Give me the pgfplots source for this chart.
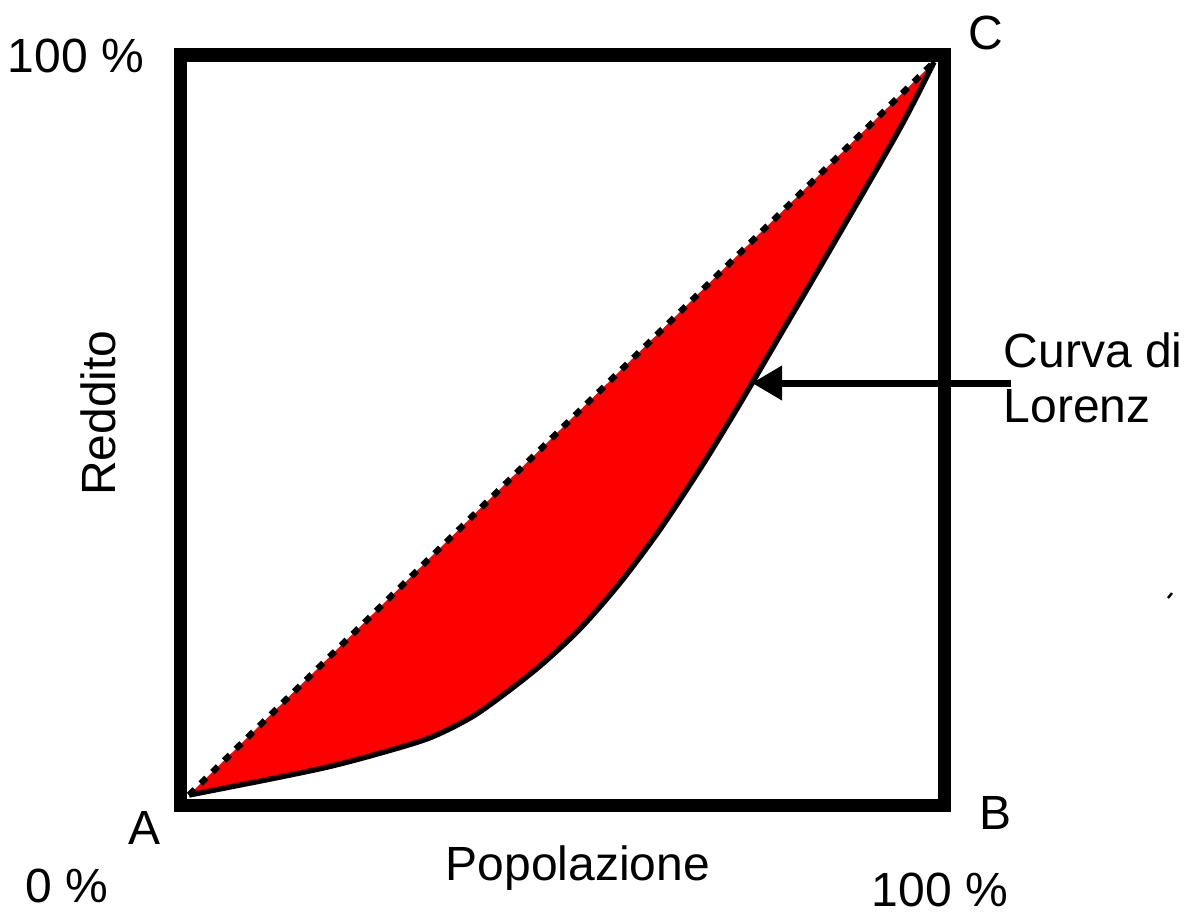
\documentclass[border=0pt]{standalone}
\usepackage{pgfplots}
\pgfplotsset{compat=1.18}
\usepgfplotslibrary{fillbetween}
\usetikzlibrary{arrows.meta}
\usepackage{fontspec}
\setmainfont{Liberation Sans}
\pgfplotstableread{
x y
0 0
5.5 1.1
12.2 2.45
18.9 3.9
25.6 5.7
32.3 7.8
37.7 10.5
41.7 13.3
47.1 17.6
52.5 22.7
57.9 29.0
63.2 36.2
68.6 44.5
72.6 51.1
75.7 56.4
78.0 60.4
86.4 75.0
95.4 90.9
100 100
}\lorenz
\begin{document}
\begin{tikzpicture}
\path (0pt,0pt) rectangle (296.75pt,228pt);
\begin{axis}[
  scale only axis,
  width=191pt, height=187.5pt,
  at={(45pt,26.75pt)}, anchor=south west,
  xmin=-1.21, xmax=101.34, ymin=-1.36, ymax=100.95,
  hide axis, clip=false,
]
\addplot[name path=diag, draw=none] coordinates {(0,0) (100,100)};
\addplot[name path=curve, draw=none, smooth] table[x=x,y=y] {\lorenz};
\addplot[fill=red, draw=none] fill between[of=diag and curve];
\addplot[black, line width=1.55pt, dash pattern=on 2pt off 2.1pt] coordinates {(0,0) (100,100)};
\addplot[black, line width=1.35pt, smooth] table[x=x,y=y] {\lorenz};
\draw[line width=3.25pt, line join=miter] (rel axis cs:0,0) rectangle (rel axis cs:1,1);
\end{axis}
\begin{scope}[font=\fontsize{12}{14}\selectfont]
\node[anchor=base west, inner sep=0] at (1.75pt,209.75pt) {100 \%};
\node[inner sep=0] at (246.5pt,219.75pt) {C};
\node[inner sep=0] at (36.25pt,21pt) {A};
\node[inner sep=0] at (248.75pt,24.75pt) {B};
\node[anchor=base west, inner sep=0] at (6.25pt,2.5pt) {0 \%};
\node[anchor=base, inner sep=0] at (144.5pt,8pt) {Popolazione};
\node[anchor=base west, inner sep=0] at (217.75pt,1.3pt) {100 \%};
\node[inner sep=0, rotate=90] at (24.5pt,124.75pt) {Reddito};
\node[anchor=base west, inner sep=0] at (250.75pt,136.25pt) {Curva di};
\node[anchor=base west, inner sep=0] at (250.75pt,122.5pt) {Lorenz};
\end{scope}
\draw[line width=1.75pt, -{Triangle[length=7.5pt, width=8.25pt]}] (252.75pt,132.25pt) -- (188pt,132.25pt);
\draw[line width=0.6pt] (292pt,78.5pt) -- (293pt,79.75pt);
\end{tikzpicture}
\end{document}
